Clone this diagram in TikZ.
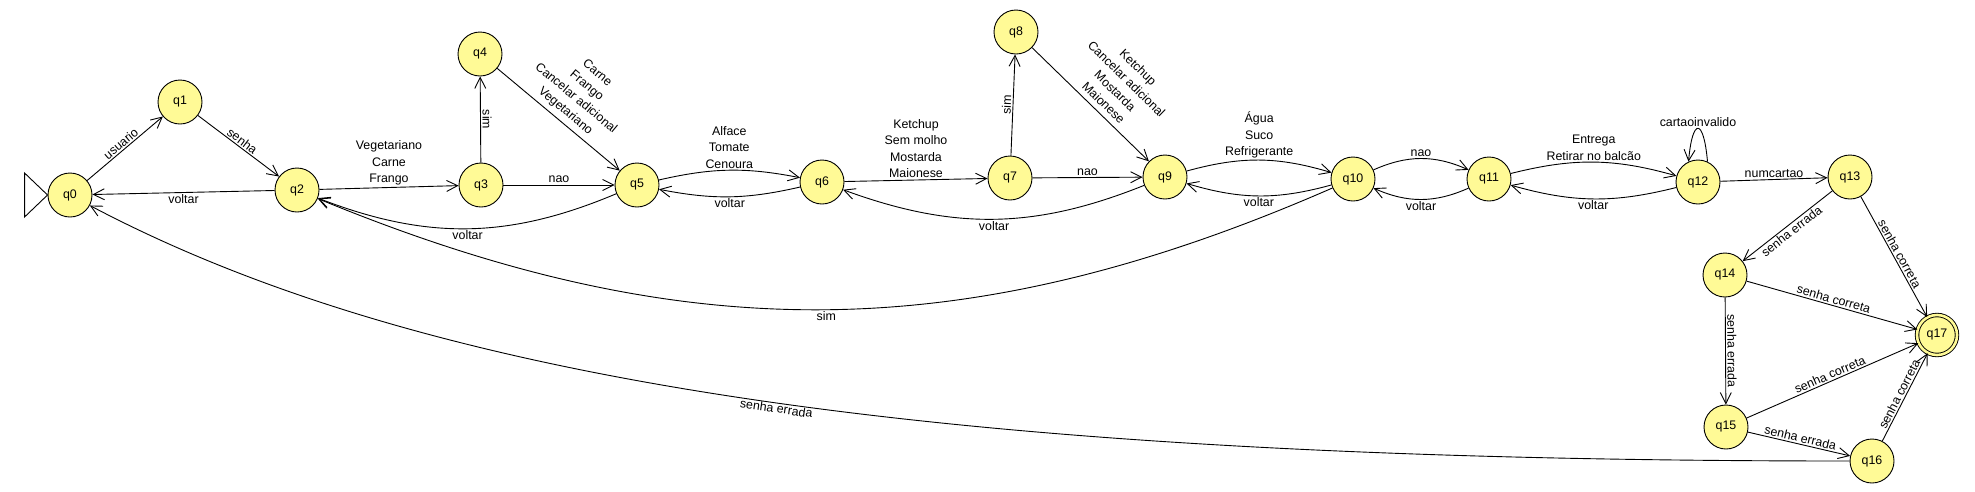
\documentclass[tikz,border=0pt]{standalone}
\usepackage{fontspec}
\setmainfont{Liberation Sans}
\usetikzlibrary{arrows.meta}
\definecolor{qfill}{RGB}{255,250,150}

\begin{document}
\begin{tikzpicture}[x=1pt, y=-1pt, line width=0.9pt,
  >={Straight Barb[length=11pt,width=11pt]},
  every node/.style={font=\fontsize{12.4}{16.5}\selectfont},
  qstate/.style={circle, draw, fill=qfill, minimum size=44pt, inner sep=0pt},
  qfinal/.style={qstate, minimum size=40pt, double=qfill, double distance=2.6pt},
  lbl/.style={inner sep=1.5pt, align=center}]
\useasboundingbox (0,0) rectangle (1975,491);
% states
\node[qstate] (q0) at (70,195) {q0};
\node[qstate] (q1) at (180,102) {q1};
\node[qstate] (q2) at (297,190) {q2};
\node[qstate] (q3) at (481,185) {q3};
\node[qstate] (q4) at (480,54) {q4};
\node[qstate] (q5) at (637,185) {q5};
\node[qstate] (q6) at (822,182) {q6};
\node[qstate] (q7) at (1010,178) {q7};
\node[qstate] (q8) at (1016,32) {q8};
\node[qstate] (q9) at (1165,177) {q9};
\node[qstate] (q10) at (1353,179) {q10};
\node[qstate] (q11) at (1489,179) {q11};
\node[qstate] (q12) at (1698,182) {q12};
\node[qstate] (q13) at (1850,177) {q13};
\node[qstate] (q14) at (1725,275) {q14};
\node[qstate] (q15) at (1726,427) {q15};
\node[qstate] (q16) at (1872,461) {q16};
\node[qfinal] (q17) at (1937,335) {q17};
% initial state
\draw (q0.west) -- ++(-23,-22) -- ++(0,44) -- cycle;
% login
\draw[->] (q0) -- node[lbl, above, sloped] {usuario} (q1);
\draw[->] (q1) -- node[lbl, above, sloped] {senha} (q2);
\draw[->] (q2) -- node[lbl, below] {voltar} (q0);
% lanche
\draw[->] (q2) -- node[lbl, above] {Vegetariano\\Carne\\Frango} (q3);
\draw[->] (q3) -- node[lbl, above, sloped] {sim} (q4);
\draw[->] (q3) -- node[lbl, above] {nao} (q5);
\draw[->] (q4) -- node[lbl, above=3pt, sloped] {Carne\\Frango\\Cancelar adicional\\Vegetariano} (q5);
\draw[->] (q5) to[bend left=22] node[lbl, below] {voltar} (q2);
\draw[->] (q5) to[bend left=12] node[lbl, above] {Alface\\Tomate\\Cenoura} (q6);
\draw[->] (q6) to[bend left=12] node[lbl, below] {voltar} (q5);
% molhos
\draw[->] (q6) -- node[lbl, above] {Ketchup\\Sem molho\\Mostarda\\Maionese} (q7);
\draw[->] (q7) -- node[lbl, above, sloped] {sim} (q8);
\draw[->] (q7) -- node[lbl, above] {nao} (q9);
\draw[->] (q8) -- node[lbl, above=4pt, sloped, pos=0.55] {Ketchup\\Cancelar adicional\\Mostarda\\Maionese} (q9);
\draw[->] (q9) to[bend left=21] node[lbl, below] {voltar} (q6);
% bebida
\draw[->] (q9) to[bend left=16] node[lbl, above] {Água\\Suco\\Refrigerante} (q10);
\draw[->] (q10) to[bend left=16] node[lbl, below] {voltar} (q9);
\draw[->] (q10) to[bend left=23] node[lbl, below] {sim} (q2);
\draw[->] (q10) to[bend left=24] node[lbl, above] {nao} (q11);
\draw[->] (q11) to[bend left=24] node[lbl, below] {voltar} (q10);
% entrega e pagamento
\draw[->] (q11) to[bend left=15] node[lbl, above] {Entrega\\Retirar no balcão} (q12);
\draw[->] (q12) to[bend left=15] node[lbl, below] {voltar} (q11);
\draw[->] (q12.65) to[out=95, in=85, looseness=6] node[lbl, above] {cartaoinvalido} (q12.115);
\draw[->] (q12) -- node[lbl, above] {numcartao} (q13);
\draw[->] (q13) -- node[lbl, below, sloped] {senha errada} (q14);
\draw[->] (q13) -- node[lbl, above, sloped] {senha correta} (q17);
\draw[->] (q14) -- node[lbl, above, sloped] {senha correta} (q17);
\draw[->] (q14) -- node[lbl, above, sloped] {senha errada} (q15);
\draw[->] (q15) -- node[lbl, above, sloped] {senha correta} (q17);
\draw[->] (q15) -- node[lbl, above, sloped] {senha errada} (q16);
\draw[->] (q16) -- node[lbl, above, sloped] {senha correta} (q17);
\draw[->] (q16) .. controls (950,461) and (430,385) .. node[lbl, inner sep=0.5pt, below, sloped, pos=0.49] {senha errada} (q0);
\end{tikzpicture}
\end{document}
